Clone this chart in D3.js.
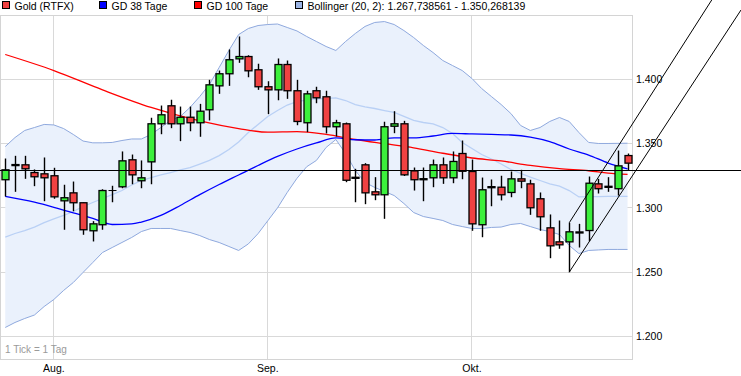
<!DOCTYPE html>
<html>
<head>
<meta charset="utf-8">
<script src="https://cdn.jsdelivr.net/npm/d3@7"></script>
<style>
body { margin: 0; background: #fff; }
svg { display: block; font-family: "Liberation Sans", Arial, sans-serif; }
</style>
</head>
<body>
<script>

// trading days shown (one candle per day)
var dates = [
    "2013-07-25","2013-07-26","2013-07-29","2013-07-30","2013-07-31",
    "2013-08-01","2013-08-02","2013-08-05","2013-08-06","2013-08-07","2013-08-08","2013-08-09",
    "2013-08-12","2013-08-13","2013-08-14","2013-08-15","2013-08-16","2013-08-19","2013-08-20",
    "2013-08-21","2013-08-22","2013-08-23","2013-08-26","2013-08-27","2013-08-28","2013-08-29","2013-08-30",
    "2013-09-02","2013-09-03","2013-09-04","2013-09-05","2013-09-06","2013-09-09","2013-09-10",
    "2013-09-11","2013-09-12","2013-09-13","2013-09-16","2013-09-17","2013-09-18","2013-09-19",
    "2013-09-20","2013-09-23","2013-09-24","2013-09-25","2013-09-26","2013-09-27","2013-09-30",
    "2013-10-01","2013-10-02","2013-10-03","2013-10-04","2013-10-07","2013-10-08","2013-10-09",
    "2013-10-10","2013-10-11","2013-10-14","2013-10-15","2013-10-16","2013-10-17","2013-10-18",
    "2013-10-21","2013-10-22","2013-10-23"
];

var open = [1.3219,1.3337,1.3335,1.3275,1.3265,1.3250,1.3055,1.3117,1.3040,1.2822,1.2869,1.3135,1.3164,
    1.3374,1.3211,1.3358,1.3654,1.3794,1.3654,1.3705,1.3662,1.3763,1.3949,1.4043,1.4159,1.4177,
    1.4074,1.3942,1.3918,1.4115,1.3911,1.3662,1.3911,1.3864,1.3631,1.3654,1.3238,1.3335,1.3125,
    1.3102,1.3635,1.3654,1.3288,1.3227,1.3234,1.3335,1.3234,1.3423,1.3283,1.2869,1.3165,1.3161,
    1.3120,1.3226,1.3187,1.3071,1.2845,1.2736,1.2736,1.2813,1.2824,1.3187,1.3168,1.3149,1.3407];
var high = [1.3384,1.3405,1.3405,1.3299,1.3392,1.3312,1.3180,1.3205,1.3042,1.2897,1.3145,1.3172,1.3439,
    1.3415,1.3369,1.3701,1.3796,1.3841,1.3788,1.3788,1.3809,1.3996,1.4068,1.4232,1.4333,1.4187,
    1.4121,1.3985,1.4162,1.4146,1.3996,1.3911,1.3942,1.3911,1.3685,1.3664,1.3304,1.3348,1.3239,
    1.3670,1.3752,1.3677,1.3314,1.3314,1.3376,1.3392,1.3439,1.3524,1.3376,1.3236,1.3221,1.3250,
    1.3283,1.3296,1.3219,1.3120,1.2949,1.2902,1.2884,1.2876,1.3244,1.3226,1.3239,1.3446,1.3423];
var low = [1.3089,1.3125,1.3226,1.3169,1.3052,1.3071,1.2830,1.2974,1.2791,1.2739,1.2830,1.3044,1.3153,
    1.3184,1.3153,1.3184,1.3573,1.3620,1.3519,1.3596,1.3553,1.3680,1.3887,1.3949,1.4128,1.4016,
    1.3918,1.3729,1.3837,1.3848,1.3643,1.3589,1.3814,1.3579,1.3555,1.3200,1.3044,1.3029,1.3060,
    1.2915,1.3581,1.3248,1.3135,1.3052,1.3161,1.3187,1.3192,1.3223,1.2822,1.2772,1.3013,1.3058,
    1.3083,1.3153,1.2946,1.2822,1.2609,1.2682,1.2500,1.2692,1.2741,1.3112,1.3125,1.3096,1.3291];
var close = [1.3296,1.3329,1.3304,1.3242,1.3234,1.3086,1.3079,1.3040,1.2830,1.2876,1.3135,1.3135,1.3366,
    1.3257,1.3234,1.3654,1.3724,1.3654,1.3705,1.3662,1.3752,1.3957,1.4043,1.4152,1.4177,1.4066,
    1.3942,1.3918,1.4115,1.3911,1.3672,1.3887,1.3856,1.3631,1.3662,1.3215,1.3230,1.3117,1.3102,
    1.3631,1.3654,1.3257,1.3219,1.3219,1.3335,1.3234,1.3361,1.3285,1.2876,1.3141,1.3157,1.3102,
    1.3226,1.3208,1.3001,1.2931,1.2705,1.2713,1.2814,1.2805,1.3192,1.3149,1.3160,1.3327,1.3348];

// moving averages, read at sample days: [day index, value]
var gd38 = [[0,1.3089],[3,1.3044],[5,1.3005],[7,1.2962],[9,1.2918],[11,1.2871],[13,1.2875],[14,1.2890],
    [16,1.2942],[18,1.3019],[20,1.3103],[22,1.3182],[24,1.3256],[26,1.3330],[28,1.3400],[30,1.3458],
    [32,1.3505],[34,1.3544],[36,1.3530],[38,1.3528],[40,1.3545],[42,1.3545],[44,1.3559],[46,1.3579],
    [48,1.3575],[50,1.3571],[52,1.3567],[54,1.3551],[56,1.3516],[58,1.3458],[60,1.3411],[62,1.3349],[64,1.3304]];
var gd100 = [[0,1.4193],[5,1.4068],[10,1.3918],[15,1.3781],[20,1.3676],[24,1.3617],[27,1.3589],[30,1.3593],
    [33,1.3571],[36,1.3532],[39,1.3499],[42,1.3467],[45,1.3425],[48,1.3388],[51,1.3365],[54,1.3330],
    [57,1.3305],[60,1.3289],[62,1.3271],[64,1.3260]];

// Bollinger (20, 2), one value per day
var bollUpper = [1.3477,1.3547,1.3602,1.3625,1.3649,1.3645,1.3617,1.3571,1.3520,1.3506,1.3506,1.3509,1.3524,
    1.3536,1.3536,1.3571,1.3625,1.3680,1.3711,1.3781,1.3866,1.3960,1.4092,1.4224,1.4348,1.4395,
    1.4418,1.4426,1.4430,1.4403,1.4376,1.4333,1.4294,1.4255,1.4224,1.4294,1.4356,1.4411,1.4442,
    1.4449,1.4426,1.4379,1.4325,1.4263,1.4208,1.4146,1.4107,1.4068,1.4006,1.3928,1.3866,1.3804,
    1.3734,1.3641,1.3602,1.3625,1.3672,1.3703,1.3672,1.3586,1.3509,1.3501,1.3501,1.3502,1.3503];
var bollMid = [1.2772,1.2801,1.2824,1.2851,1.2886,1.2914,1.2941,1.2972,1.3011,1.3042,1.3073,1.3104,1.3135,
    1.3178,1.3213,1.3236,1.3256,1.3275,1.3295,1.3314,1.3341,1.3369,1.3407,1.3454,1.3512,1.3586,
    1.3649,1.3711,1.3757,1.3800,1.3827,1.3839,1.3847,1.3851,1.3855,1.3835,1.3804,1.3785,1.3773,
    1.3757,1.3742,1.3711,1.3680,1.3664,1.3654,1.3625,1.3579,1.3509,1.3462,1.3415,1.3380,1.3341,
    1.3299,1.3268,1.3240,1.3213,1.3186,1.3170,1.3135,1.3085,1.3087,1.3088,1.3089,1.3090,1.3090];
var bollLower = [1.2070,1.2109,1.2140,1.2167,1.2233,1.2288,1.2358,1.2420,1.2498,1.2575,1.2653,1.2692,1.2731,
    1.2770,1.2816,1.2840,1.2840,1.2840,1.2824,1.2809,1.2785,1.2754,1.2731,1.2700,1.2669,1.2720,
    1.2800,1.2900,1.3000,1.3120,1.3230,1.3320,1.3369,1.3470,1.3532,1.3423,1.3291,1.3198,1.3159,
    1.3128,1.3096,1.3034,1.2964,1.2933,1.2918,1.2902,1.2871,1.2855,1.2840,1.2840,1.2848,1.2851,
    1.2871,1.2879,1.2855,1.2832,1.2816,1.2793,1.2708,1.2645,1.2669,1.2673,1.2677,1.2677,1.2677];

// trend channel drawn on the chart: [day index, price]
var channelLow = [[58, 1.2500], [75.67, 1.4539]];
var channelHigh = [[58, 1.2884], [72.66, 1.4617]];
var refPrice = 1.3289;

var priceTicks = [1.2, 1.25, 1.3, 1.35, 1.4];
var monthTicks = ["2013-08-01", "2013-09-02", "2013-10-01"];
var monthLabels = ["Aug.", "Sep.", "Okt."];

var legendLabels = ["Gold (RTFX)", "GD 38 Tage", "GD 100 Tage",
    "Bollinger (20, 2): 1.267,738561 - 1.350,268139"];
var legendColors = ["#f04242", "#0000ff", "#ff0000", "#9bb4e4"];

// ---- layout
var width = 741, height = 376;
var frame = { left: 0.5, right: 632.5, top: 15.5, bottom: 359.5 };

var svg = d3.select("body").append("svg")
    .attr("width", width)
    .attr("height", height);

var x = d3.scaleLinear()
    .domain([-0.5, dates.length - 0.5])
    .range([0.4, 632.4]);
var y = d3.scaleLinear()
    .domain([1.2, 1.45])
    .range([336.5, 15]);

function crisp(v) { return Math.floor(v) + 0.5; }

// grid
var grid = svg.append("g");
grid.selectAll(".hg")
    .data(priceTicks)
    .enter().append("line")
    .attr("x1", frame.left).attr("x2", frame.right)
    .attr("y1", function (d) { return crisp(y(d)); })
    .attr("y2", function (d) { return crisp(y(d)); })
    .attr("stroke", "#d9d9d9");
grid.selectAll(".vg")
    .data(monthTicks)
    .enter().append("line")
    .attr("x1", function (d) { return crisp(x(dates.indexOf(d))); })
    .attr("x2", function (d) { return crisp(x(dates.indexOf(d))); })
    .attr("y1", frame.top).attr("y2", frame.bottom)
    .attr("stroke", "#d9d9d9");

// bollinger band
var idx = d3.range(dates.length);
svg.append("path")
    .datum(idx)
    .attr("fill", "#eaf1fc")
    .attr("d", d3.area()
        .x(function (i) { return x(i); })
        .y0(function (i) { return y(bollLower[i]); })
        .y1(function (i) { return y(bollUpper[i]); }));

function bandLine(arr, color, w) {
    svg.append("path")
        .datum(idx)
        .attr("fill", "none")
        .attr("stroke", color)
        .attr("stroke-width", w)
        .attr("d", d3.line()
            .x(function (i) { return x(i); })
            .y(function (i) { return y(arr[i]); }));
}
bandLine(bollMid, "#b9d0f5", 1.3);
bandLine(bollUpper, "#8fa9de", 1);
bandLine(bollLower, "#8fa9de", 1);

// moving averages
var maLine = d3.line()
    .curve(d3.curveMonotoneX)
    .x(function (d) { return x(d[0]); })
    .y(function (d) { return y(d[1]); });
svg.append("path").datum(gd100)
    .attr("fill", "none").attr("stroke", "#ff0000").attr("stroke-width", 1.3)
    .attr("d", maLine);
svg.append("path").datum(gd38)
    .attr("fill", "none").attr("stroke", "#0000ff").attr("stroke-width", 1.3)
    .attr("d", maLine);

// frame
svg.append("rect")
    .attr("x", frame.left).attr("y", frame.top)
    .attr("width", frame.right - frame.left)
    .attr("height", frame.bottom - frame.top)
    .attr("fill", "none")
    .attr("stroke", "#d4d4d4");

// candles
var bodyW = 7;
var candles = svg.append("g").selectAll("g")
    .data(idx)
    .enter().append("g");

candles.append("line")
    .attr("x1", function (i) { return Math.round(x(i)) + 0.5; })
    .attr("x2", function (i) { return Math.round(x(i)) + 0.5; })
    .attr("y1", function (i) { return y(high[i]); })
    .attr("y2", function (i) { return y(low[i]); })
    .attr("stroke", "#000")
    .attr("stroke-width", 1.4);

candles.each(function (i) {
    var g = d3.select(this);
    var cx = Math.round(x(i)) + 0.5;
    var yo = y(open[i]), yc = y(close[i]);
    var h = Math.abs(yo - yc);
    if (h === 0) {
        g.append("line")
            .attr("x1", cx - bodyW / 2 - 0.5).attr("x2", cx + bodyW / 2 + 0.5)
            .attr("y1", yo).attr("y2", yo)
            .attr("stroke", "#000").attr("stroke-width", 1);
        return;
    }
    var fill = close[i] >= open[i] ? "#3cf03c" : "#f04242";
    if (h < 2) fill = "#000";
    g.append("rect")
        .attr("x", cx - bodyW / 2)
        .attr("y", Math.min(yo, yc))
        .attr("width", bodyW)
        .attr("height", h)
        .attr("fill", fill)
        .attr("stroke", "#000")
        .attr("stroke-width", 1.3);
});

// reference line across the whole picture
svg.append("line")
    .attr("x1", 0).attr("x2", width)
    .attr("y1", crisp(y(refPrice))).attr("y2", crisp(y(refPrice)))
    .attr("stroke", "#000");

// trend channel
var chLine = d3.line()
    .x(function (d) { return x(d[0]); })
    .y(function (d) { return y(d[1]); });
[channelLow, channelHigh].forEach(function (c) {
    svg.append("path").datum(c)
        .attr("fill", "none").attr("stroke", "#000").attr("stroke-width", 1)
        .attr("d", chLine);
});

// right price axis
var yAxis = d3.axisRight(y)
    .tickValues(priceTicks)
    .tickFormat(d3.format(".3f"))
    .tickSize(0)
    .tickPadding(4);
var ya = svg.append("g")
    .attr("transform", "translate(" + 632 + ",0)")
    .call(yAxis);
ya.select(".domain").remove();
ya.selectAll("text")
    .attr("font-family", "Liberation Sans, Arial, sans-serif")
    .style("font-size", "10.5px")
    .attr("fill", "#000");

// month labels
var xa = svg.append("g");
xa.selectAll("text")
    .data(monthTicks)
    .enter().append("text")
    .attr("x", function (d) { return x(dates.indexOf(d)); })
    .attr("y", 372)
    .attr("text-anchor", "middle")
    .style("font-size", "10.5px")
    .text(function (d, i) { return monthLabels[i]; });

svg.append("text")
    .attr("x", 5)
    .attr("y", 353)
    .style("font-size", "10px")
    .attr("fill", "#9a9a9a")
    .text("1 Tick = 1 Tag");

// legend
var legendX = [2, 99, 194, 295];
var lg = svg.append("g").selectAll("g")
    .data(legendLabels)
    .enter().append("g")
    .attr("transform", function (d, i) { return "translate(" + legendX[i] + ",0)"; });
lg.append("rect")
    .attr("x", 0.5).attr("y", 1.5)
    .attr("width", 7).attr("height", 7)
    .attr("fill", function (d, i) { return legendColors[i]; })
    .attr("stroke", "#000");
lg.append("text")
    .attr("x", 12.5)
    .attr("y", 10)
    .style("font-size", "10.5px")
    .text(function (d) { return d; });

</script>
</body>
</html>
